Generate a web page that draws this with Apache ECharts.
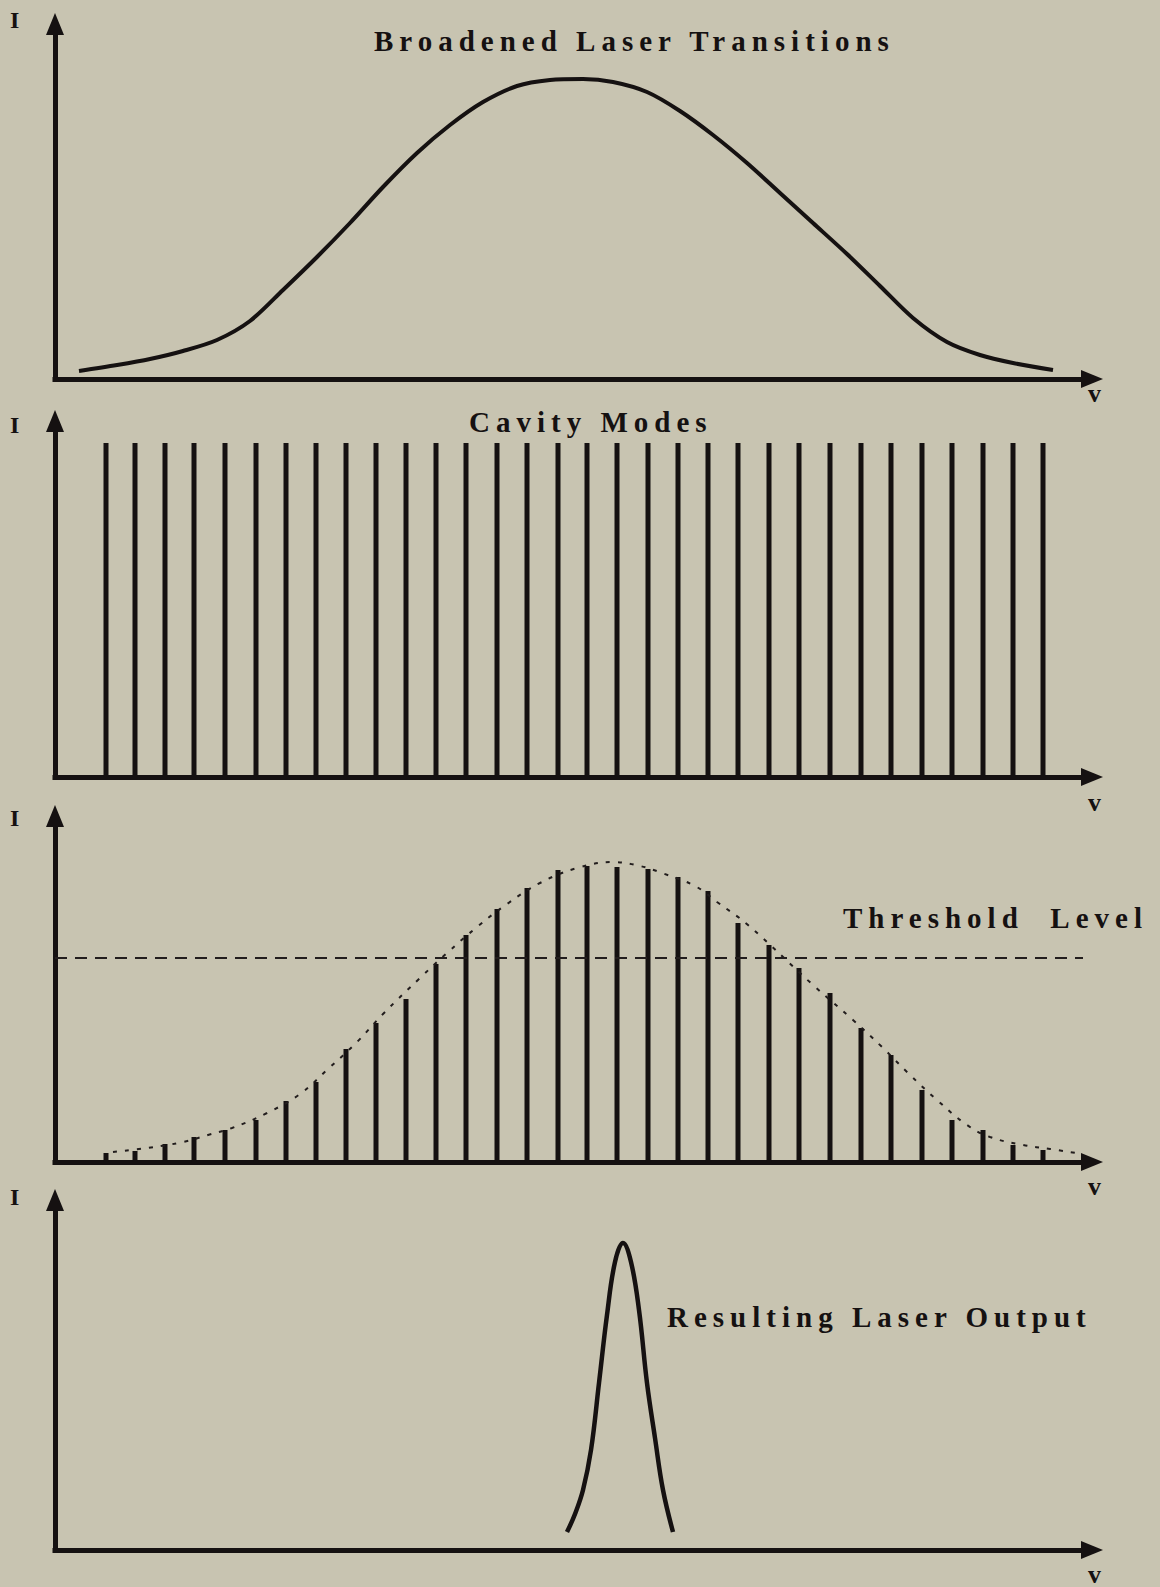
<!DOCTYPE html>
<html><head><meta charset="utf-8">
<script src="https://cdn.jsdelivr.net/npm/echarts@6/dist/echarts.min.js"></script>
<style>
html,body{margin:0;padding:0;background:#c8c4b1;}
#chart{width:1160px;height:1587px;}
#chart svg text{letter-spacing:6px; white-space:pre;}
</style></head>
<body><div id="chart"></div>
<script>
// ---- data (frequency in arbitrary units from the I axis, intensity in arbitrary units) ----
const gainX = [24, 62, 95, 128, 162, 195, 228, 262, 295, 328, 362, 395, 428, 462, 495, 528, 558, 592, 625, 658, 692, 725, 758, 792, 825, 858, 892, 925, 958, 998];
const gainY = [8, 14, 20, 28, 39, 58, 89, 122, 156, 192, 226, 254, 277, 293, 299, 300, 297, 287, 268, 244, 216, 186, 156, 125, 93, 61, 37, 24, 16, 9];

const modeFreq = [51, 80, 110, 139, 170, 201, 231, 261, 291, 321, 351, 381, 411, 442, 472, 503, 532, 562, 593, 623, 653, 683, 714, 744, 775, 806, 836, 867, 897, 928, 958, 988];
const cavityIntensity = [334, 334, 334, 334, 334, 334, 334, 334, 334, 334, 334, 334, 334, 334, 334, 334, 334, 334, 334, 334, 334, 334, 334, 334, 334, 334, 334, 334, 334, 334, 334, 334];

const modeIntensity = [9, 11, 18, 25, 32, 42, 61, 80, 113, 139, 163, 198, 227, 253, 274, 292, 296, 295, 293, 285, 271, 239, 217, 194, 169, 134, 107, 72, 42, 32, 17, 12];
const envX = [58, 92, 128, 153, 177, 212, 245, 273, 302, 328, 365, 392, 422, 452, 485, 522, 558, 585, 607, 640, 662, 693, 758, 798, 827, 853, 882, 912, 935, 968, 995, 1021];
const envY = [10, 14, 20, 27, 34, 49, 68, 93, 120, 148, 184, 209, 235, 258, 279, 294, 300, 296, 289, 276, 260, 237, 177, 142, 115, 89, 62, 37, 25, 17, 13, 9];
const thresholdLevel = 204;
const thresholdSpan = [0, 1028];

const outX = [512, 520, 528, 536, 544, 552, 560, 568, 576, 584, 592, 600, 608, 618];
const outY = [18, 36, 60, 100, 167, 235, 288, 307, 288, 240, 167, 112, 60, 18];

const titles = ['Broadened Laser Transitions', 'Cavity Modes', 'Threshold  Level', 'Resulting Laser Output'];
const yName = 'I';
const xName = 'v';

// ---- chart ----
const INK = '#151111';
const zip = (a, b) => a.map((v, i) => [v, b[i]]);
const grids = [
  {left: 55, top: 24, width: 1037, height: 355},
  {left: 55, top: 421, width: 1037, height: 356},
  {left: 55, top: 816, width: 1037, height: 346},
  {left: 55, top: 1200, width: 1037, height: 350}
];
const axisLine = {show: true, onZero: false, symbol: ['none', 'triangle'], symbolSize: [18, 22],
  lineStyle: {color: INK, width: 5, cap: 'square'}};
const xAxes = grids.map((g, i) => ({type: 'value', gridIndex: i, min: 0, max: 1037, axisLine,
  axisTick: {show: false}, axisLabel: {show: false}, splitLine: {show: false}}));
const yAxes = grids.map((g, i) => ({type: 'value', gridIndex: i, min: 0, max: g.height, axisLine,
  axisTick: {show: false}, axisLabel: {show: false}, splitLine: {show: false}}));

const titleFont = 'bold 29px "Liberation Serif", "DejaVu Serif", serif';
const text = (t, x, y, font) => ({type: 'text', x, y, silent: true,
  style: {text: t, font, fill: INK, textAlign: 'left', textVerticalAlign: 'middle'}});

const graphic = [
  text(titles[0], 374, 41, titleFont),
  text(titles[1], 469, 422, titleFont),
  text(titles[2], 843, 918, titleFont),
  text(titles[3], 667, 1317, titleFont),
  text(yName, 10, 20, 'bold 24px "Liberation Serif", serif'),
  text(yName, 10, 425, 'bold 24px "Liberation Serif", serif'),
  text(yName, 10, 818, 'bold 24px "Liberation Serif", serif'),
  text(yName, 10, 1197, 'bold 24px "Liberation Serif", serif'),
  text(xName, 1088, 393, 'bold 26px "Liberation Serif", serif'),
  text(xName, 1088, 802, 'bold 26px "Liberation Serif", serif'),
  text(xName, 1088, 1186, 'bold 26px "Liberation Serif", serif'),
  text(xName, 1088, 1574, 'bold 26px "Liberation Serif", serif')
];

const chart = echarts.init(document.getElementById('chart'), null, {renderer: 'svg', width: 1160, height: 1587});
chart.setOption({
  backgroundColor: '#c8c4b1',
  animation: false,
  grid: grids,
  xAxis: xAxes,
  yAxis: yAxes,
  graphic,
  series: [
    {type: 'line', xAxisIndex: 0, yAxisIndex: 0, data: zip(gainX, gainY), smooth: 0.3, symbol: 'none',
      lineStyle: {color: INK, width: 4}},
    {type: 'bar', xAxisIndex: 1, yAxisIndex: 1, data: zip(modeFreq, cavityIntensity), barWidth: 5,
      itemStyle: {color: INK}},
    {type: 'bar', xAxisIndex: 2, yAxisIndex: 2, data: zip(modeFreq, modeIntensity), barWidth: 5,
      itemStyle: {color: INK}},
    {type: 'line', xAxisIndex: 2, yAxisIndex: 2, data: zip(envX, envY), smooth: 0.4, symbol: 'none',
      lineStyle: {color: '#221d1d', width: 2, type: [4, 8]}},
    {type: 'line', xAxisIndex: 2, yAxisIndex: 2, data: thresholdSpan.map(x => [x, thresholdLevel]), symbol: 'none',
      lineStyle: {color: '#221d1d', width: 1.8, type: [12, 8]}},
    {type: 'line', xAxisIndex: 3, yAxisIndex: 3, data: zip(outX, outY), smooth: 0.4, symbol: 'none',
      lineStyle: {color: INK, width: 4.5}}
  ]
});
</script>
</body></html>
